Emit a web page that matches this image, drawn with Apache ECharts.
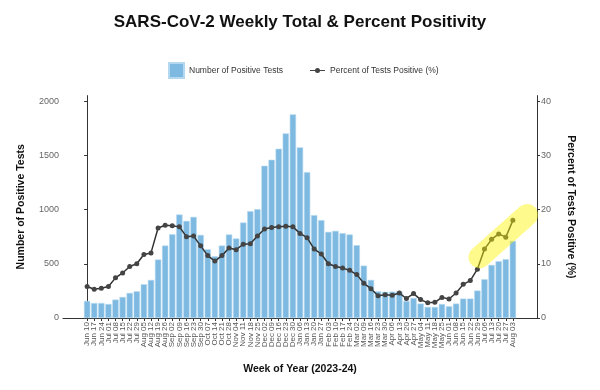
<!DOCTYPE html>
<html>
<head>
<meta charset="utf-8">
<script src="https://cdn.jsdelivr.net/npm/echarts@6/dist/echarts.min.js"></script>
<style>html,body{margin:0;padding:0;background:#fff}#c{width:600px;height:390px}</style>
</head>
<body>
<div id="c"></div>
<script>
const weeks = ['Jun 10','Jun 17','Jun 24','Jul 01','Jul 08','Jul 15','Jul 22','Jul 29','Aug 05','Aug 12','Aug 19','Aug 26','Sep 02','Sep 09','Sep 16','Sep 23','Sep 30','Oct 07','Oct 14','Oct 21','Oct 28','Nov 04','Nov 11','Nov 18','Nov 25','Dec 02','Dec 09','Dec 16','Dec 23','Dec 30','Jan 06','Jan 13','Jan 20','Jan 27','Feb 03','Feb 10','Feb 17','Feb 24','Mar 02','Mar 09','Mar 16','Mar 23','Mar 30','Apr 06','Apr 13','Apr 20','Apr 27','May 04','May 11','May 18','May 25','Jun 01','Jun 08','Jun 15','Jun 22','Jun 29','Jul 06','Jul 13','Jul 20','Jul 27','Aug 03'];
const positiveTests = [157,138,138,129,170,194,231,246,311,351,539,668,772,954,895,932,766,634,569,668,770,733,880,985,1003,1403,1458,1560,1702,1877,1573,1345,948,902,794,803,782,770,671,483,351,246,242,243,246,157,185,133,102,102,129,108,133,179,179,253,357,489,523,542,711];
const percentPositive = [5.8,5.3,5.5,5.8,7.4,8.3,9.5,10.0,11.7,12.0,16.6,17.1,17.0,16.8,15.0,15.1,13.3,11.5,10.5,11.5,12.9,12.6,13.6,13.7,15.1,16.4,16.7,16.8,16.9,16.8,15.6,14.8,12.7,11.8,10.0,9.5,9.2,8.8,8.0,6.4,5.4,4.1,4.3,4.2,4.6,3.6,4.5,3.4,2.8,2.9,3.8,3.5,4.6,6.2,6.9,9.0,12.7,14.5,15.5,14.9,18.0];
const leftTicks = [0,500,1000,1500,2000];
const rightTicks = [0,10,20,30,40];
// highlight capsule ends (week index, percent)
const highlightStart = [55.3, 11.2];
const highlightEnd = [62.0, 19.0];

const FONT = 'Liberation Sans, Arial, Helvetica, sans-serif';
// panel layout: outer panel in week-index units, weeks sit in the middle
const PANEL_L = 63, PANEL_R = 63, PANEL_T = 95.6, PANEL_B = 72, W = 600;
const X_MIN = -3.4, X_MAX = 63.4;
const band = (W - PANEL_L - PANEL_R) / (X_MAX - X_MIN);
const innerL = PANEL_L + (-0.5 - X_MIN) * band;
const innerR = PANEL_R + (X_MAX - (weeks.length - 0.5)) * band;
const Y_MAX_L = 2050, Y_MAX_R = 41;
// legend glyph: thin line with a dot in the middle (15 x 5 box)
const lineDotIcon = 'path://M0,2 L15,2 L15,3.1 L0,3.1 Z M10,2.5 A2.5,2.5 0 1 1 5,2.5 A2.5,2.5 0 1 1 10,2.5 Z';
const nameStyle = {fontFamily: FONT, fontSize: 10.5, fontWeight: 'bold', color: '#111'};

const chart = echarts.init(document.getElementById('c'), null, {renderer: 'canvas'});
chart.setOption({
  animation: false,
  backgroundColor: '#ffffff',
  textStyle: {fontFamily: FONT},
  title: {
    text: 'SARS-CoV-2 Weekly Total & Percent Positivity',
    left: 'center', top: 9,
    textStyle: {fontFamily: FONT, fontSize: 17, fontWeight: 'bold', color: '#111'}
  },
  legend: {
    left: 168, top: 62, padding: 0,
    itemWidth: 15, itemHeight: 15, itemGap: 27,
    data: [
      {name: 'Number of Positive Tests', icon: 'rect'},
      {name: 'Percent of Tests Positive (%)', icon: lineDotIcon}
    ],
    textStyle: {fontFamily: FONT, fontSize: 8.5, color: '#333'}
  },
  grid: [
    {left: PANEL_L, right: PANEL_R, top: PANEL_T, bottom: PANEL_B},
    {left: innerL, right: innerR, top: PANEL_T, bottom: PANEL_B}
  ],
  xAxis: [{
    gridIndex: 0, type: 'value', min: X_MIN, max: X_MAX,
    name: 'Week of Year (2023-24)', nameLocation: 'middle', nameGap: 46,
    nameTextStyle: nameStyle,
    axisLine: {show: true, onZero: false, lineStyle: {color: '#333', width: 1}},
    axisTick: {show: false}, axisLabel: {show: false}, splitLine: {show: false}
  }, {
    gridIndex: 1, type: 'category', data: weeks, boundaryGap: true,
    axisLine: {show: false},
    axisTick: {show: true, alignWithLabel: true, interval: 0, length: 3, lineStyle: {color: '#333'}},
    axisLabel: {interval: 0, rotate: 90, fontSize: 8, color: '#555', margin: 4},
    splitLine: {show: false}
  }],
  yAxis: [{
    gridIndex: 0, type: 'value', min: 0, max: Y_MAX_L,
    name: 'Number of Positive Tests', nameLocation: 'middle', nameGap: 36, nameRotate: 90,
    nameTextStyle: nameStyle,
    axisLine: {show: true, lineStyle: {color: '#333', width: 1}},
    axisTick: {show: true, length: 3, customValues: leftTicks, lineStyle: {color: '#333'}},
    axisLabel: {customValues: leftTicks, fontSize: 9, color: '#666', margin: 4, formatter: v => String(v)},
    splitLine: {show: false}
  }, {
    gridIndex: 0, type: 'value', min: 0, max: Y_MAX_R, position: 'right',
    name: 'Percent of Tests Positive (%)', nameLocation: 'middle', nameGap: 28, nameRotate: -90,
    nameTextStyle: nameStyle,
    axisLine: {show: true, lineStyle: {color: '#333', width: 1}},
    axisTick: {show: true, length: 3, customValues: rightTicks, lineStyle: {color: '#333'}},
    axisLabel: {customValues: rightTicks, fontSize: 9, color: '#666', margin: 4, formatter: v => String(v)},
    splitLine: {show: false}
  }, {
    gridIndex: 1, type: 'value', min: 0, max: Y_MAX_L, show: false, splitLine: {show: false}
  }, {
    gridIndex: 1, type: 'value', min: 0, max: Y_MAX_R, show: false, splitLine: {show: false}
  }],
  series: [{
    name: 'Number of Positive Tests', type: 'bar',
    xAxisIndex: 1, yAxisIndex: 2,
    data: positiveTests,
    barWidth: 6.3,
    itemStyle: {color: '#7DB9E1', borderColor: '#B3D8F0', borderWidth: 0.6},
    z: 2
  }, {
    name: 'Percent of Tests Positive (%)', type: 'line',
    xAxisIndex: 1, yAxisIndex: 3,
    data: percentPositive,
    symbol: 'circle', symbolSize: 5,
    lineStyle: {color: '#333', width: 1.5},
    itemStyle: {color: '#444'},
    z: 3
  }, {
    name: 'highlight', type: 'line',
    xAxisIndex: 0, yAxisIndex: 1,
    data: [highlightStart, highlightEnd],
    symbol: 'none', silent: true, clip: false,
    lineStyle: {color: 'rgba(255,245,0,0.45)', width: 22, cap: 'round'},
    z: 5
  }]
});
</script>
</body>
</html>
